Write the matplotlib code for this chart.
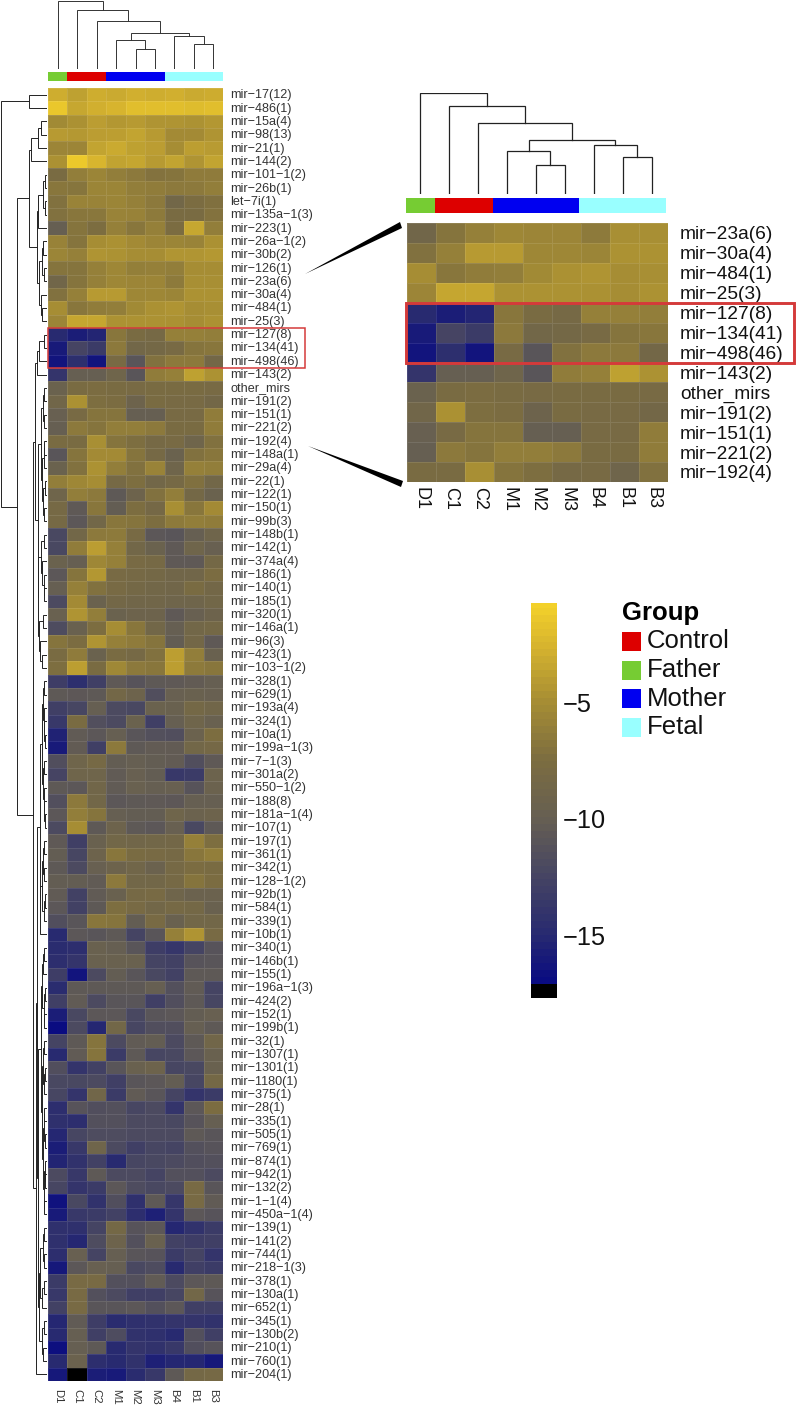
import numpy as np
import matplotlib
matplotlib.use("Agg")
import matplotlib.pyplot as plt
from matplotlib.colors import LinearSegmentedColormap, Normalize
from matplotlib.patches import Rectangle, Polygon

plt.rcParams["font.family"] = ["Liberation Sans", "DejaVu Sans"]

W, H = 796, 1406

samples = ["D1", "C1", "C2", "M1", "M2", "M3", "B4", "B1", "B3"]
sample_groups = ["Father", "Control", "Control", "Mother", "Mother", "Mother", "Fetal", "Fetal", "Fetal"]
groups = ["Control", "Father", "Mother", "Fetal"]
group_colors = {"Control": "#dd0000", "Father": "#76cc33", "Mother": "#0000f0", "Fetal": "#99ffff"}

mirs = ["mir−17(12)", "mir−486(1)", "mir−15a(4)", "mir−98(13)", "mir−21(1)", "mir−144(2)", "mir−101−1(2)",
        "mir−26b(1)", "let−7i(1)", "mir−135a−1(3)", "mir−223(1)", "mir−26a−1(2)", "mir−30b(2)", "mir−126(1)",
        "mir−23a(6)", "mir−30a(4)", "mir−484(1)", "mir−25(3)", "mir−127(8)", "mir−134(41)", "mir−498(46)",
        "mir−143(2)", "other_mirs", "mir−191(2)", "mir−151(1)", "mir−221(2)", "mir−192(4)", "mir−148a(1)",
        "mir−29a(4)", "mir−22(1)", "mir−122(1)", "mir−150(1)", "mir−99b(3)", "mir−148b(1)", "mir−142(1)",
        "mir−374a(4)", "mir−186(1)", "mir−140(1)", "mir−185(1)", "mir−320(1)", "mir−146a(1)", "mir−96(3)",
        "mir−423(1)", "mir−103−1(2)", "mir−328(1)", "mir−629(1)", "mir−193a(4)", "mir−324(1)", "mir−10a(1)",
        "mir−199a−1(3)", "mir−7−1(3)", "mir−301a(2)", "mir−550−1(2)", "mir−188(8)", "mir−181a−1(4)", "mir−107(1)",
        "mir−197(1)", "mir−361(1)", "mir−342(1)", "mir−128−1(2)", "mir−92b(1)", "mir−584(1)", "mir−339(1)",
        "mir−10b(1)", "mir−340(1)", "mir−146b(1)", "mir−155(1)", "mir−196a−1(3)", "mir−424(2)", "mir−152(1)",
        "mir−199b(1)", "mir−32(1)", "mir−1307(1)", "mir−1301(1)", "mir−1180(1)", "mir−375(1)", "mir−28(1)",
        "mir−335(1)", "mir−505(1)", "mir−769(1)", "mir−874(1)", "mir−942(1)", "mir−132(2)", "mir−1−1(4)",
        "mir−450a−1(4)", "mir−139(1)", "mir−141(2)", "mir−744(1)", "mir−218−1(3)", "mir−378(1)", "mir−130a(1)",
        "mir−652(1)", "mir−345(1)", "mir−130b(2)", "mir−210(1)", "mir−760(1)", "mir−204(1)"]

# log expression, one row per miR, columns in the order of samples
values = [
    [-3.0, -3.8, -3.0, -3.2, -2.9, -3.0, -2.9, -3.2, -3.1],
    [-1.4, -3.4, -2.9, -2.6, -2.0, -2.0, -2.0, -2.1, -2.0],
    [-5.3, -4.8, -4.0, -4.4, -4.2, -4.6, -4.6, -4.7, -4.4],
    [-4.2, -4.3, -4.0, -3.9, -3.6, -4.2, -5.2, -5.2, -4.6],
    [-5.6, -5.6, -3.6, -3.2, -3.8, -4.0, -5.0, -3.9, -4.1],
    [-4.8, -1.3, -2.5, -3.7, -3.5, -4.2, -3.6, -4.6, -3.6],
    [-7.8, -6.2, -5.7, -6.2, -6.6, -7.1, -7.0, -6.4, -6.4],
    [-6.8, -6.9, -5.7, -5.7, -6.2, -6.3, -6.6, -6.6, -6.2],
    [-7.2, -5.8, -5.8, -5.7, -6.0, -6.6, -8.6, -7.6, -7.3],
    [-7.2, -6.8, -6.7, -5.8, -5.9, -6.5, -7.8, -7.8, -7.1],
    [-10.0, -7.0, -7.5, -6.0, -6.8, -6.0, -7.6, -3.4, -6.2],
    [-5.9, -7.0, -5.0, -4.8, -5.2, -5.6, -5.7, -5.8, -4.8],
    [-5.7, -6.0, -4.6, -4.7, -5.0, -5.0, -4.5, -4.5, -4.3],
    [-7.0, -7.0, -6.0, -5.5, -6.1, -6.0, -6.2, -5.0, -5.0],
    [-8.8, -7.0, -6.0, -5.5, -5.6, -5.6, -6.5, -4.9, -4.9],
    [-7.2, -6.0, -4.2, -4.2, -5.5, -5.5, -5.7, -4.7, -4.7],
    [-5.0, -6.8, -6.3, -6.2, -5.3, -4.8, -4.6, -5.0, -4.9],
    [-5.6, -3.5, -3.5, -4.7, -4.7, -4.7, -4.8, -5.0, -4.7],
    [-15.0, -15.8, -15.3, -6.8, -7.8, -8.2, -6.0, -6.0, -6.2],
    [-16.0, -12.5, -13.4, -6.6, -8.6, -8.4, -8.0, -7.0, -6.8],
    [-16.5, -14.5, -16.5, -8.0, -11.0, -7.2, -6.6, -6.6, -8.5],
    [-14.0, -10.0, -10.0, -9.0, -11.0, -6.3, -6.0, -3.8, -4.7],
    [-9.5, -7.8, -7.6, -7.8, -8.0, -7.8, -7.8, -7.8, -8.0],
    [-8.8, -4.8, -7.4, -7.6, -9.2, -7.8, -8.0, -8.0, -8.5],
    [-9.8, -8.0, -7.0, -7.0, -10.0, -10.0, -8.0, -8.0, -6.3],
    [-10.0, -6.6, -7.0, -6.2, -6.2, -6.6, -7.8, -7.8, -6.3],
    [-7.8, -7.8, -4.9, -7.0, -7.4, -8.2, -8.0, -9.0, -7.2],
    [-11.0, -7.0, -5.2, -5.2, -7.0, -8.2, -9.5, -7.2, -6.8],
    [-9.5, -7.2, -4.7, -6.2, -7.2, -5.8, -9.0, -6.0, -6.2],
    [-6.2, -5.5, -5.0, -8.2, -7.4, -8.6, -8.2, -7.3, -8.6],
    [-9.0, -6.2, -6.6, -10.6, -9.2, -7.2, -6.2, -8.4, -9.5],
    [-8.2, -10.5, -6.8, -10.2, -7.5, -8.3, -4.9, -6.8, -5.2],
    [-8.2, -10.8, -8.6, -6.8, -7.0, -7.5, -6.5, -6.2, -6.3],
    [-12.2, -8.6, -6.6, -6.5, -8.0, -10.8, -11.0, -10.0, -9.0],
    [-12.2, -6.3, -4.0, -6.0, -8.6, -9.5, -10.5, -9.0, -9.8],
    [-9.5, -10.0, -5.5, -6.0, -8.0, -8.2, -10.5, -10.5, -8.4],
    [-10.8, -7.0, -4.4, -8.0, -8.2, -8.4, -8.7, -8.7, -7.6],
    [-10.0, -6.0, -7.2, -8.0, -8.4, -8.6, -8.8, -7.8, -8.5],
    [-12.0, -5.2, -9.5, -8.5, -8.7, -8.8, -9.0, -9.0, -8.6],
    [-9.7, -4.6, -6.2, -9.5, -9.2, -9.2, -10.5, -9.8, -9.2],
    [-11.8, -9.6, -7.5, -5.0, -6.8, -8.6, -10.0, -8.6, -8.4],
    [-7.0, -7.6, -4.6, -6.0, -6.4, -7.0, -10.2, -8.5, -10.5],
    [-7.8, -6.4, -9.5, -7.8, -8.2, -7.2, -3.9, -6.2, -9.6],
    [-7.4, -3.9, -7.8, -5.4, -6.6, -6.8, -3.9, -6.5, -6.8],
    [-13.2, -14.5, -13.0, -10.5, -11.2, -10.6, -10.5, -10.3, -10.0],
    [-10.6, -10.7, -10.6, -8.5, -9.2, -11.6, -9.8, -9.6, -9.8],
    [-13.0, -12.4, -10.0, -12.0, -12.2, -9.5, -9.6, -8.4, -8.8],
    [-13.6, -7.8, -11.5, -12.0, -9.5, -13.0, -10.0, -9.0, -9.7],
    [-15.5, -10.4, -10.8, -10.0, -11.0, -11.4, -11.6, -9.4, -7.5],
    [-16.0, -10.3, -13.0, -6.6, -10.6, -10.3, -10.3, -8.6, -8.3],
    [-11.6, -9.0, -8.2, -10.2, -10.0, -10.2, -10.3, -11.6, -10.5],
    [-12.5, -9.0, -9.0, -10.4, -9.8, -10.2, -13.6, -13.4, -9.3],
    [-10.6, -10.8, -8.8, -10.4, -9.7, -10.0, -9.8, -11.2, -9.4],
    [-11.5, -6.6, -8.6, -10.8, -10.6, -10.5, -10.7, -10.0, -10.0],
    [-10.8, -6.2, -7.0, -10.0, -10.2, -10.2, -9.0, -9.4, -9.2],
    [-12.0, -5.0, -10.6, -9.2, -10.6, -10.8, -9.8, -12.2, -10.6],
    [-10.5, -13.0, -9.6, -8.6, -8.8, -8.6, -8.5, -6.0, -7.4],
    [-10.2, -12.4, -9.2, -6.8, -7.8, -8.0, -8.2, -6.8, -6.2],
    [-10.6, -12.0, -9.8, -9.2, -8.8, -9.4, -8.2, -7.6, -7.8],
    [-10.2, -10.2, -10.4, -6.6, -8.6, -8.6, -8.2, -7.0, -7.6],
    [-10.4, -12.8, -10.4, -9.6, -8.2, -8.0, -9.0, -9.4, -9.4],
    [-10.8, -12.8, -10.6, -7.4, -8.0, -8.6, -8.2, -8.4, -9.6],
    [-11.6, -11.0, -6.8, -7.0, -10.2, -8.0, -9.6, -8.6, -8.6],
    [-15.0, -10.8, -11.0, -10.6, -12.6, -11.0, -6.0, -4.6, -8.0],
    [-14.8, -14.6, -9.6, -10.0, -11.0, -13.2, -13.8, -12.6, -11.2],
    [-14.6, -14.0, -9.6, -9.6, -9.6, -12.6, -12.8, -11.2, -11.0],
    [-13.2, -16.5, -12.0, -10.2, -11.0, -12.2, -12.8, -10.6, -10.6],
    [-14.8, -10.6, -10.6, -10.6, -10.6, -10.0, -11.4, -10.4, -12.6],
    [-13.0, -10.4, -12.0, -11.0, -11.0, -13.0, -11.6, -10.6, -12.4],
    [-15.8, -12.2, -10.8, -10.8, -12.2, -11.0, -10.8, -10.2, -9.8],
    [-17.0, -12.0, -15.2, -8.6, -12.4, -11.6, -11.6, -10.0, -10.6],
    [-12.6, -10.6, -7.0, -12.0, -10.4, -10.2, -12.0, -10.6, -8.8],
    [-15.0, -10.4, -7.0, -13.4, -10.6, -12.4, -12.2, -10.8, -9.6],
    [-11.6, -14.0, -12.8, -11.0, -9.6, -9.2, -12.4, -12.2, -9.6],
    [-12.2, -12.2, -12.0, -13.0, -11.0, -10.8, -10.2, -12.4, -8.4],
    [-12.4, -14.0, -8.8, -13.4, -10.4, -11.0, -12.6, -14.0, -13.4],
    [-14.6, -11.2, -11.6, -11.4, -12.4, -12.0, -14.0, -10.8, -7.6],
    [-14.4, -14.6, -11.4, -11.4, -12.0, -12.0, -12.2, -11.2, -10.0],
    [-15.2, -12.4, -11.8, -11.8, -12.0, -12.0, -12.0, -10.6, -11.0],
    [-15.8, -13.6, -9.0, -12.0, -13.0, -12.4, -12.6, -11.4, -11.2],
    [-15.4, -14.2, -12.8, -15.0, -12.4, -12.2, -12.0, -11.6, -11.4],
    [-12.0, -13.6, -10.6, -12.0, -12.0, -12.6, -11.4, -11.4, -12.0],
    [-12.4, -14.0, -13.4, -10.8, -11.8, -12.2, -12.0, -8.0, -11.0],
    [-16.6, -12.2, -14.2, -11.6, -14.4, -10.6, -13.8, -8.0, -10.4],
    [-16.0, -13.6, -13.4, -12.8, -14.6, -15.6, -14.0, -10.8, -11.2],
    [-14.4, -14.4, -12.6, -8.4, -11.2, -10.8, -15.2, -14.2, -13.4],
    [-14.4, -15.2, -11.8, -9.2, -11.4, -9.6, -12.8, -13.2, -13.0],
    [-14.6, -9.8, -12.6, -10.0, -11.0, -11.2, -13.4, -12.6, -14.0],
    [-16.2, -10.8, -9.8, -10.0, -12.2, -11.8, -15.0, -13.0, -13.4],
    [-13.4, -8.0, -8.0, -11.4, -11.4, -10.4, -12.0, -10.8, -10.6],
    [-13.6, -8.0, -11.4, -12.0, -13.0, -13.0, -12.4, -8.6, -11.2],
    [-12.8, -8.0, -11.0, -11.0, -10.8, -11.4, -10.8, -13.0, -13.0],
    [-15.2, -10.4, -13.2, -14.8, -14.4, -14.2, -14.0, -14.0, -14.2],
    [-15.0, -10.0, -13.0, -11.8, -14.2, -14.4, -15.0, -11.4, -13.0],
    [-16.8, -10.0, -10.6, -15.0, -14.0, -14.2, -13.6, -11.6, -11.2],
    [-15.0, -9.4, -14.6, -15.0, -14.2, -15.6, -15.2, -15.2, -16.2],
    [-16.2, -17.6, -15.8, -16.0, -14.8, -13.6, -10.6, -8.4, -8.2],
]

inset_mirs = mirs[14:27]
inset_values = values[14:27]

# cluster trees as [height, left, right], leaves are row/column numbers
col_tree = [1.0, 0, [0.87, 1, [0.70, 2, [0.53, [0.43, 3, [0.29, 4, 5]], [0.49, 6, [0.37, 7, 8]]]]]]

row_tree = [46, [18, 0, 1], [30,
    [18,
        [16, [9, [6.5, 2, 3], 4], 5],
        [10,
            [9, [4, [2.5, 6, 7], [2.5, 8, 9]], 10],
            [8, [5.5, [4, 11, 12], [3.5, 13, 14]], [6, 15, [5, 16, 17]]]]],
    [14,
        [12,
            [10.5, [8, [3.5, 18, 19], 20], 21],
            [9.5,
                [6, [4.5, [3, 22, 23], [3, 24, 25]],
                    [5, [3.5, [3, 26, 27], 28], [4.5, [2.5, 29, 30], [3, 31, 32]]]],
                [9,
                    [6, [3.5, 33, 34], [5, 35, [3.5, 36, [3, 37, 38]]]],
                    [8.5, [4, 39, 40], [7.5, 41, [5.3, 42, 43]]]]]],
        [11,
            [10,
                [7.5,
                    [5.5, [4, [3, 44, 45], [3.5, 46, [3, 47, [2.5, 48, 49]]]],
                        [4, [3, 50, 51], [3.5, 52, [3, 53, [2.5, 54, 55]]]]],
                    [7, [5, [4, [3, 56, 57], [3, 58, 59]], [3.5, [2.5, 60, 61], 62]], 63]],
                [9,
                    [6.5,
                        [5, [4, [3, 64, 65], 66], [3.5, [2.5, 67, 68], [3, 69, 70]]],
                        [5.5, [4.5, [3, 71, 72], [3.5, [2.5, 73, 74], 75]],
                            [4.5, [3.5, [3, 76, 77], [2.5, 78, 79]],
                                [3.5, [2.5, 80, [2, 81, 82]], [3, 83, 84]]]]],
                    [8,
                        [7, [4, [3, 85, 86], [3.5, 87, 88]], [5, [3.5, 89, 90], 91]],
                        [5, [3.5, 92, 93], [4, 94, 95]]]]],
            96]]]]

cmap = LinearSegmentedColormap.from_list("navy_yellow", [
    (0.000, (8/255, 10/255, 130/255)),
    (0.130, (40/255, 42/255, 112/255)),
    (0.311, (76/255, 74/255, 96/255)),
    (0.432, (102/255, 95/255, 82/255)),
    (0.583, (124/255, 109/255, 64/255)),
    (0.734, (166/255, 141/255, 52/255)),
    (0.885, (216/255, 181/255, 46/255)),
    (1.000, (246/255, 212/255, 42/255))])
cmap.set_under("black")
norm = Normalize(vmin=-17.15, vmax=-0.6)


def px_axes(x0, y0, x1, y1):
    ax = fig.add_axes([x0 / W, 1 - y1 / H, (x1 - x0) / W, (y1 - y0) / H])
    ax.axis("off")
    return ax


def heat(ax, data):
    data = np.array(data)
    ax.pcolormesh(data, cmap=cmap, norm=norm, edgecolors=(1, 1, 1, 0.1), linewidth=0.4)
    ax.set_xlim(0, data.shape[1])
    ax.set_ylim(data.shape[0], 0)


def draw_tree(ax, node, horizontal, lw, color):
    # returns (position, height) of the node
    if not isinstance(node, list):
        return node + 0.5, 0
    h, left, right = node
    p1, h1 = draw_tree(ax, left, horizontal, lw, color)
    p2, h2 = draw_tree(ax, right, horizontal, lw, color)
    hs = [h1, h, h, h2]
    ps = [p1, p1, p2, p2]
    if horizontal:
        ax.plot(hs, ps, color=color, lw=lw, solid_joinstyle="miter")
    else:
        ax.plot(ps, hs, color=color, lw=lw, solid_joinstyle="miter")
    return (p1 + p2) / 2, h


def group_bar(ax):
    for i, g in enumerate(sample_groups):
        ax.bar(i + 0.5, 1, width=1, color=group_colors[g])
    ax.set_xlim(0, len(samples))
    ax.set_ylim(0, 1)


fig = plt.figure(figsize=(W / 100, H / 100), dpi=100)

# main heatmap
ax_main = px_axes(48, 88, 223, 1381)
heat(ax_main, values)
for i, name in enumerate(mirs):
    ax_main.annotate(name, (1, i + 0.5), xycoords=("axes fraction", "data"), xytext=(5.4, -0.4),
                     textcoords="offset points", va="center", ha="left", fontsize=9.1, color="#333333")
for i, name in enumerate(samples):
    ax_main.annotate(name, (i + 0.5, 0), xycoords=("data", "axes fraction"), xytext=(0, -5.8),
                     textcoords="offset points", va="top", ha="center", rotation=270, fontsize=8.2, color="#333333")

ax_bar = px_axes(48, 72, 223, 81)
group_bar(ax_bar)

ax_top = px_axes(48, 1, 223, 69)
draw_tree(ax_top, col_tree, False, 0.7, "#333333")
ax_top.set_xlim(0, 9)
ax_top.set_ylim(0, 1)

ax_left = px_axes(1, 88, 47, 1381)
draw_tree(ax_left, row_tree, True, 0.7, "#222222")
ax_left.set_xlim(46, 0)
ax_left.set_ylim(len(mirs), 0)

# zoomed heatmap
ax_in = px_axes(407, 223, 668, 482)
heat(ax_in, inset_values)
for i, name in enumerate(inset_mirs):
    ax_in.annotate(name, (1, i + 0.5), xycoords=("axes fraction", "data"), xytext=(8.6, -1.4),
                   textcoords="offset points", va="center", ha="left", fontsize=13.8, color="#111111")
for i, name in enumerate(samples):
    ax_in.annotate(name, (i + 0.5, 0), xycoords=("data", "axes fraction"), xytext=(0, -3.6),
                   textcoords="offset points", va="top", ha="center", rotation=270, fontsize=13, color="#111111")

ax_bar2 = px_axes(406, 198, 666, 213)
group_bar(ax_bar2)

ax_top2 = px_axes(406, 93, 666, 194)
draw_tree(ax_top2, col_tree, False, 0.9, "#222222")
ax_top2.set_xlim(0, 9)
ax_top2.set_ylim(0, 1)

# colour key
key_levels = np.arange(-17.6, -0.3, 0.3)
ax_key = px_axes(531, 603, 557, 998)
ax_key.pcolormesh([0, 1], key_levels, np.array(key_levels[:-1]).reshape(-1, 1), cmap=cmap, norm=norm)
ax_key.set_xlim(0, 1)
ax_key.set_ylim(-17.6, -0.6)
for tick in [-5, -10, -15]:
    ax_key.annotate(str(tick).replace("-", "−"), (1, tick), xycoords=("axes fraction", "data"), xytext=(4, 0),
                    textcoords="offset points", va="center", ha="left", fontsize=18.3, color="#111111")

# overlay in pixel coordinates for boxes, connectors and legend
ax_over = px_axes(0, 0, W, H)
ax_over.set_xlim(0, W)
ax_over.set_ylim(H, 0)
ax_over.add_patch(Rectangle((48, 328), 257, 40, fill=False, ec="#d43a3a", lw=1.1))
ax_over.add_patch(Rectangle((406, 303), 388, 60, fill=False, ec="#d43a3a", lw=2.1))
ax_over.add_patch(Polygon([(305, 274), (400, 222), (402, 228)], fc="black", ec="none"))
ax_over.add_patch(Polygon([(308, 446), (403, 481), (401, 487)], fc="black", ec="none"))

ax_over.text(622, 613, "Group", fontsize=18.5, fontweight="bold", va="center", ha="left", color="black")
for i, g in enumerate(groups):
    y = 632 + i * 28.5
    ax_over.add_patch(Rectangle((622, y), 19, 19, fc=group_colors[g], ec="none"))
    ax_over.text(647, y + 9.5, g, fontsize=18.5, va="center", ha="left", color="#111111")

fig.savefig("out.png", dpi=100)
